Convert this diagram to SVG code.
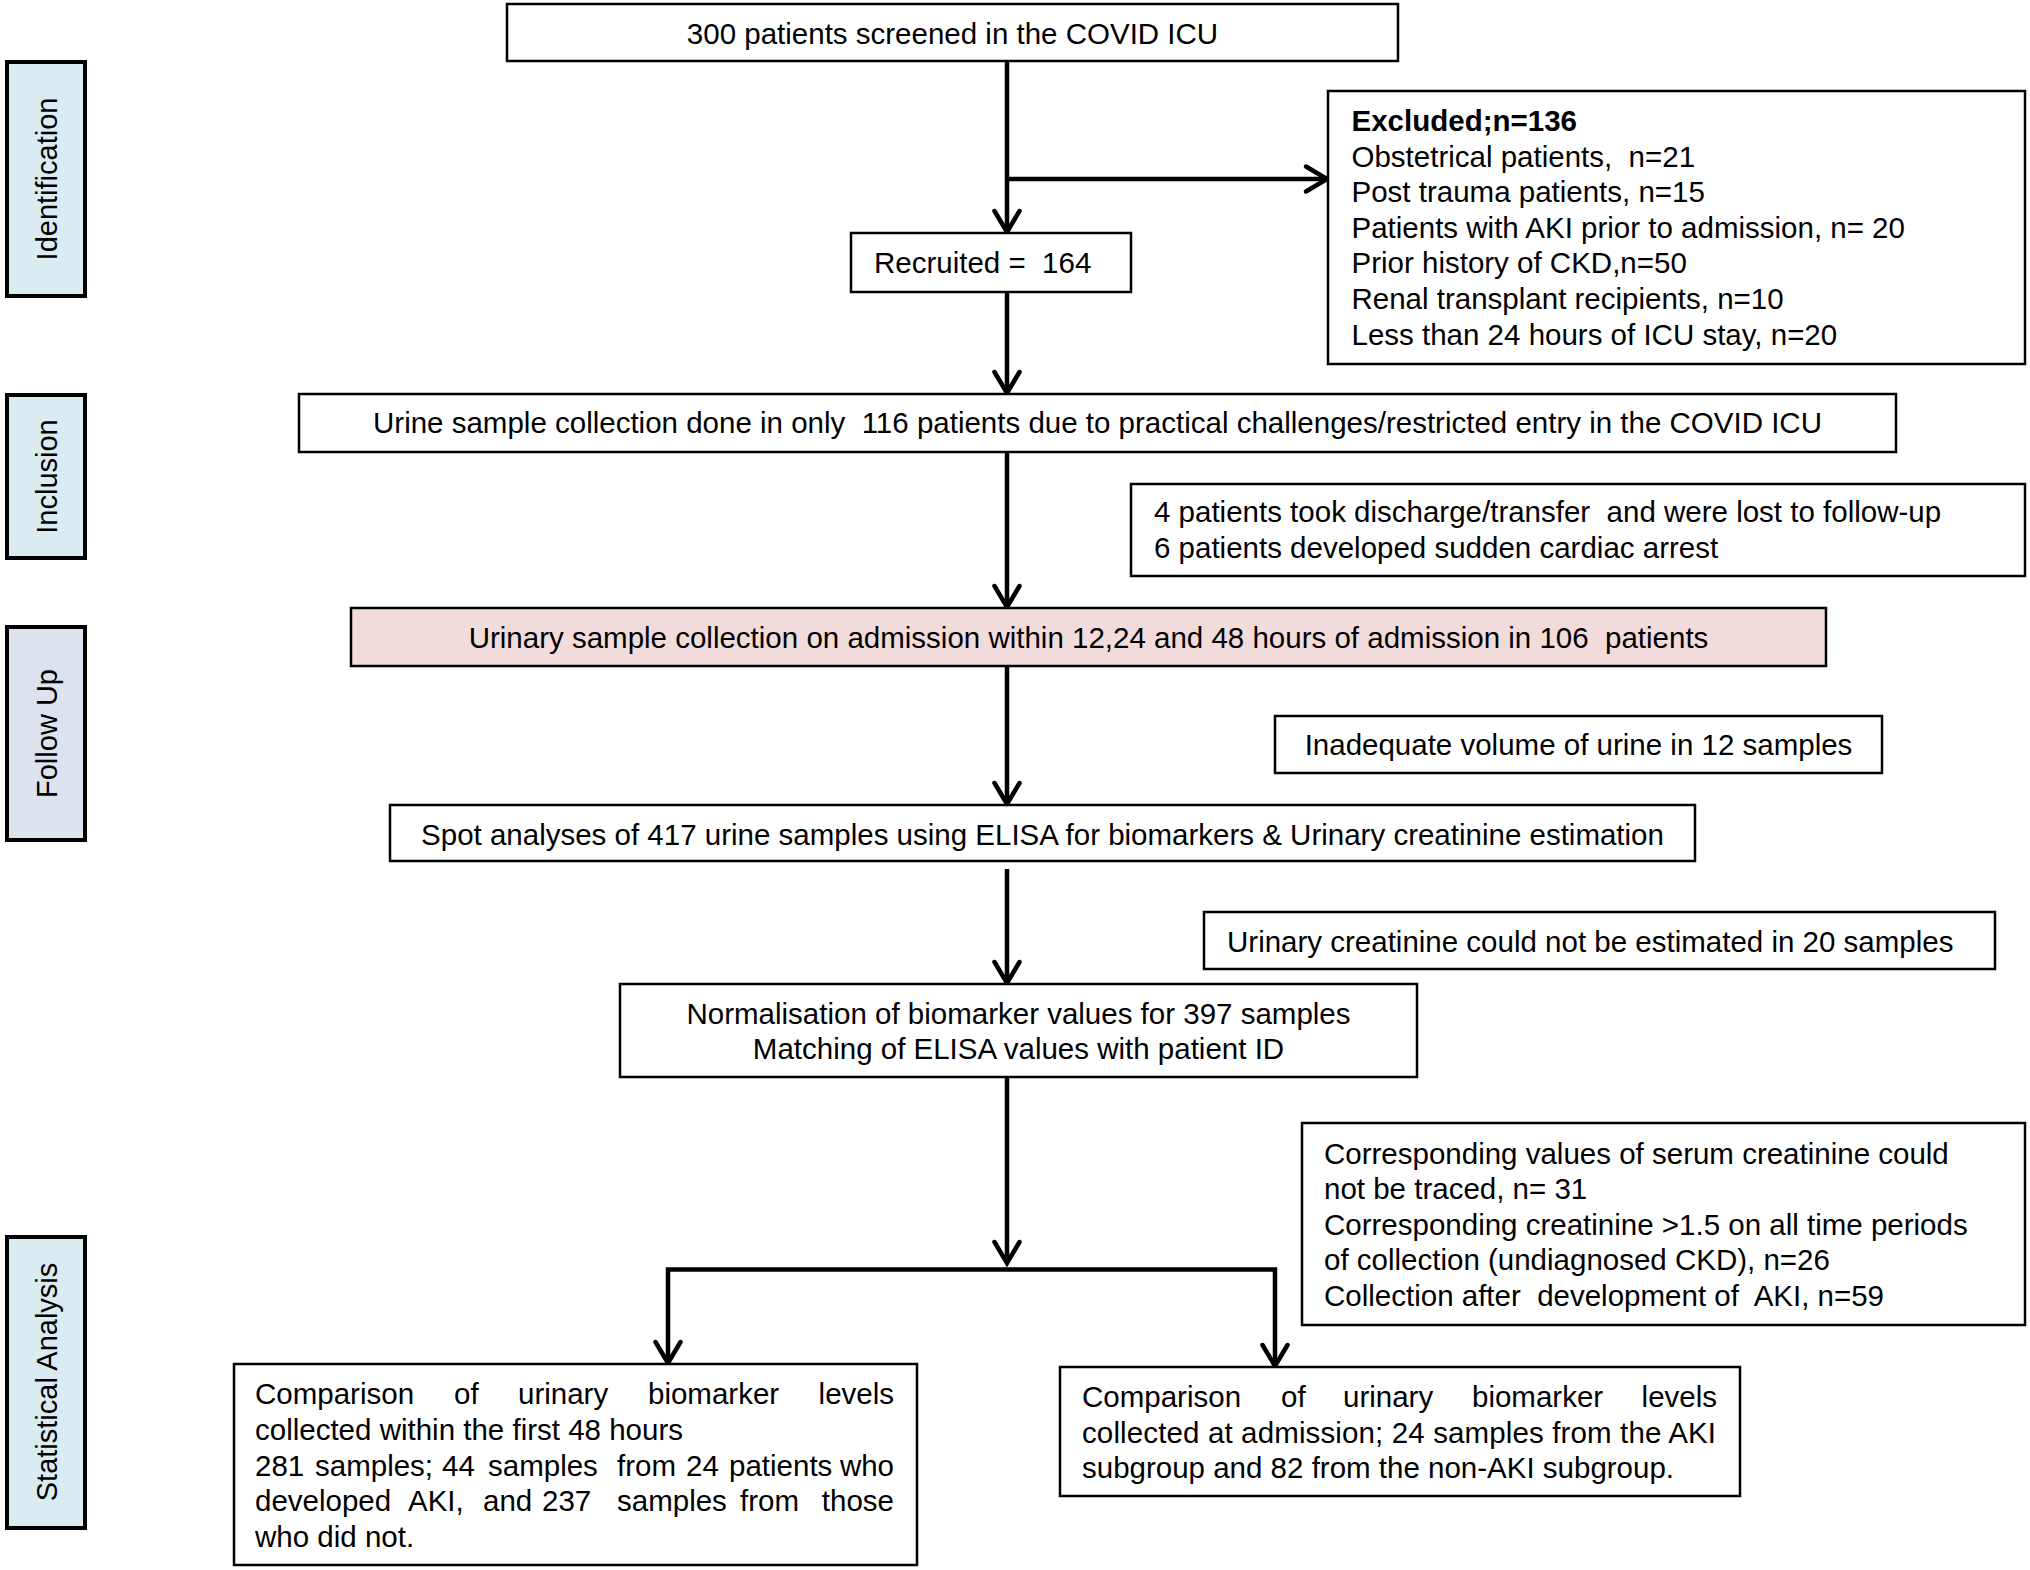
<svg xmlns="http://www.w3.org/2000/svg" width="2030" height="1570" viewBox="0 0 2030 1570">
<style>
  .box { fill: #ffffff; stroke: #000000; stroke-width: 2.5; }
  .pink { fill: #f2dcdb; stroke: #000000; stroke-width: 2.5; }
  .lane { stroke: #000000; stroke-width: 4; }
  .laneblue { fill: #dbebf2; }
  .lanegrey { fill: #dce3ee; }
  .t { font-family: "Liberation Sans", Arial, sans-serif; font-size: 29.5px; fill: #000000; }
  .tb { font-weight: bold; }
  .lt { font-family: "Liberation Sans", Arial, sans-serif; font-size: 29px; fill: #000000; text-anchor: middle; }
  .c { text-anchor: middle; }
  .e { text-anchor: end; }
  .ln { fill: none; stroke: #000000; stroke-width: 4.5; }
</style>
<defs>
  <marker id="arr" markerUnits="userSpaceOnUse" markerWidth="26" markerHeight="30" viewBox="-2 -2 26 30" refX="21" refY="12.5" orient="auto" overflow="visible">
    <path d="M0,0 L21,12.5 L0,25" fill="none" stroke="#000000" stroke-width="4.5" stroke-linecap="round" stroke-linejoin="miter"/>
  </marker>
</defs>
<rect x="0" y="0" width="2030" height="1570" fill="#ffffff"/>

<g id="lanes">
  <g id="lane-identification">
    <rect class="lane laneblue" x="7" y="62" width="78" height="234"/>
    <text class="lt" transform="translate(57,179) rotate(-90)">Identification</text>
  </g>
  <g id="lane-inclusion">
    <rect class="lane laneblue" x="7" y="395" width="78" height="163"/>
    <text class="lt" transform="translate(57,476.5) rotate(-90)">Inclusion</text>
  </g>
  <g id="lane-followup">
    <rect class="lane lanegrey" x="7" y="627" width="78" height="213"/>
    <text class="lt" transform="translate(57,733.5) rotate(-90)">Follow Up</text>
  </g>
  <g id="lane-statistical">
    <rect class="lane laneblue" x="7" y="1237" width="78" height="291"/>
    <text class="lt" transform="translate(57,1382) rotate(-90)">Statistical Analysis</text>
  </g>
</g>

<g id="connectors">
  <line class="ln" x1="1007" y1="61" x2="1007" y2="232" marker-end="url(#arr)"/>
  <line class="ln" x1="1007" y1="179" x2="1327" y2="179" marker-end="url(#arr)"/>
  <line class="ln" x1="1007" y1="292" x2="1007" y2="393" marker-end="url(#arr)"/>
  <line class="ln" x1="1007" y1="452" x2="1007" y2="607" marker-end="url(#arr)"/>
  <line class="ln" x1="1007" y1="666" x2="1007" y2="804" marker-end="url(#arr)"/>
  <line class="ln" x1="1007" y1="869" x2="1007" y2="983" marker-end="url(#arr)"/>
  <line class="ln" x1="1007" y1="1077" x2="1007" y2="1263" marker-end="url(#arr)"/>
  <path class="ln" d="M1007,1269.5 H668 V1363" marker-end="url(#arr)"/>
  <path class="ln" d="M1007,1269.5 H1275 V1366" marker-end="url(#arr)"/>
</g>

<g id="screened">
  <rect class="box" x="507" y="4" width="891" height="57"/>
  <text class="t c" x="952.5" y="43.5">300 patients screened in the COVID ICU</text>
</g>

<g id="excluded">
  <rect class="box" x="1328" y="91" width="697" height="273"/>
  <text class="t tb" x="1351.5" y="131">Excluded;n=136</text>
  <text class="t" x="1351.5" y="167">Obstetrical patients,&#160; n=21</text>
  <text class="t" x="1351.5" y="202">Post trauma patients, n=15</text>
  <text class="t" x="1351.5" y="238">Patients with AKI prior to admission, n= 20</text>
  <text class="t" x="1351.5" y="273">Prior history of CKD,n=50</text>
  <text class="t" x="1351.5" y="309">Renal transplant recipients, n=10</text>
  <text class="t" x="1351.5" y="345">Less than 24 hours of ICU stay, n=20</text>
</g>

<g id="recruited">
  <rect class="box" x="851" y="233" width="280" height="59"/>
  <text class="t" x="874" y="273">Recruited =&#160; 164</text>
</g>

<g id="urine-collection">
  <rect class="box" x="299" y="394" width="1597" height="58"/>
  <text class="t c" x="1097.5" y="433">Urine sample collection done in only&#160; 116 patients due to practical challenges/restricted entry in the COVID ICU</text>
</g>

<g id="lost">
  <rect class="box" x="1131" y="484" width="894" height="92"/>
  <text class="t" x="1154" y="522">4 patients took discharge/transfer&#160; and were lost to follow-up</text>
  <text class="t" x="1154" y="558">6 patients developed sudden cardiac arrest</text>
</g>

<g id="urinary-sample">
  <rect class="pink" x="351" y="608" width="1475" height="58"/>
  <text class="t c" x="1088.5" y="648">Urinary sample collection on admission within 12,24 and 48 hours of admission in 106&#160; patients</text>
</g>

<g id="inadequate">
  <rect class="box" x="1275" y="716" width="607" height="57"/>
  <text class="t c" x="1578.5" y="755">Inadequate volume of urine in 12 samples</text>
</g>

<g id="spot-analyses">
  <rect class="box" x="390" y="805" width="1305" height="56"/>
  <text class="t c" x="1042.5" y="845">Spot analyses of 417 urine samples using ELISA for biomarkers &amp; Urinary creatinine estimation</text>
</g>

<g id="creatinine-missing">
  <rect class="box" x="1204" y="912" width="791" height="57"/>
  <text class="t" x="1227" y="952">Urinary creatinine could not be estimated in 20 samples</text>
</g>

<g id="normalisation">
  <rect class="box" x="620" y="984" width="797" height="93"/>
  <text class="t c" x="1018.5" y="1024">Normalisation of biomarker values for 397 samples</text>
  <text class="t c" x="1018.5" y="1059">Matching of ELISA values with patient ID</text>
</g>

<g id="serum-excluded">
  <rect class="box" x="1302" y="1123" width="723" height="202"/>
  <text class="t" x="1324" y="1164">Corresponding values of serum creatinine could</text>
  <text class="t" x="1324" y="1199">not be traced, n= 31</text>
  <text class="t" x="1324" y="1235">Corresponding creatinine &gt;1.5 on all time periods</text>
  <text class="t" x="1324" y="1270">of collection (undiagnosed CKD), n=26</text>
  <text class="t" x="1324" y="1306">Collection after&#160; development of&#160; AKI, n=59</text>
</g>

<g id="comparison-48h">
  <rect class="box" x="234" y="1364" width="683" height="201"/>
  <text class="t" y="1404"><tspan x="255">Comparison</tspan><tspan x="454">of</tspan><tspan x="518">urinary</tspan><tspan x="648">biomarker</tspan></text>
  <text class="t e" x="894" y="1404">levels</text>
  <text class="t" x="255" y="1440">collected within the first 48 hours</text>
  <text class="t" y="1476"><tspan x="255">281</tspan><tspan x="315">samples;</tspan><tspan x="442">44</tspan><tspan x="488">samples</tspan><tspan x="617">from</tspan><tspan x="686">24</tspan><tspan x="729">patients</tspan></text>
  <text class="t e" x="894" y="1476">who</text>
  <text class="t" y="1511"><tspan x="255">developed</tspan><tspan x="408">AKI,</tspan><tspan x="483">and</tspan><tspan x="542">237</tspan><tspan x="617">samples</tspan><tspan x="740">from</tspan></text>
  <text class="t e" x="894" y="1511">those</text>
  <text class="t" x="255" y="1547">who did not.</text>
</g>

<g id="comparison-admission">
  <rect class="box" x="1060" y="1367" width="680" height="129"/>
  <text class="t" y="1407"><tspan x="1082">Comparison</tspan><tspan x="1281">of</tspan><tspan x="1343">urinary</tspan><tspan x="1472">biomarker</tspan></text>
  <text class="t e" x="1717" y="1407">levels</text>
  <text class="t" x="1082" y="1443" textLength="634" lengthAdjust="spacing">collected at admission; 24 samples from the AKI</text>
  <text class="t" x="1082" y="1478">subgroup and 82 from the non-AKI subgroup.</text>
</g>
</svg>
